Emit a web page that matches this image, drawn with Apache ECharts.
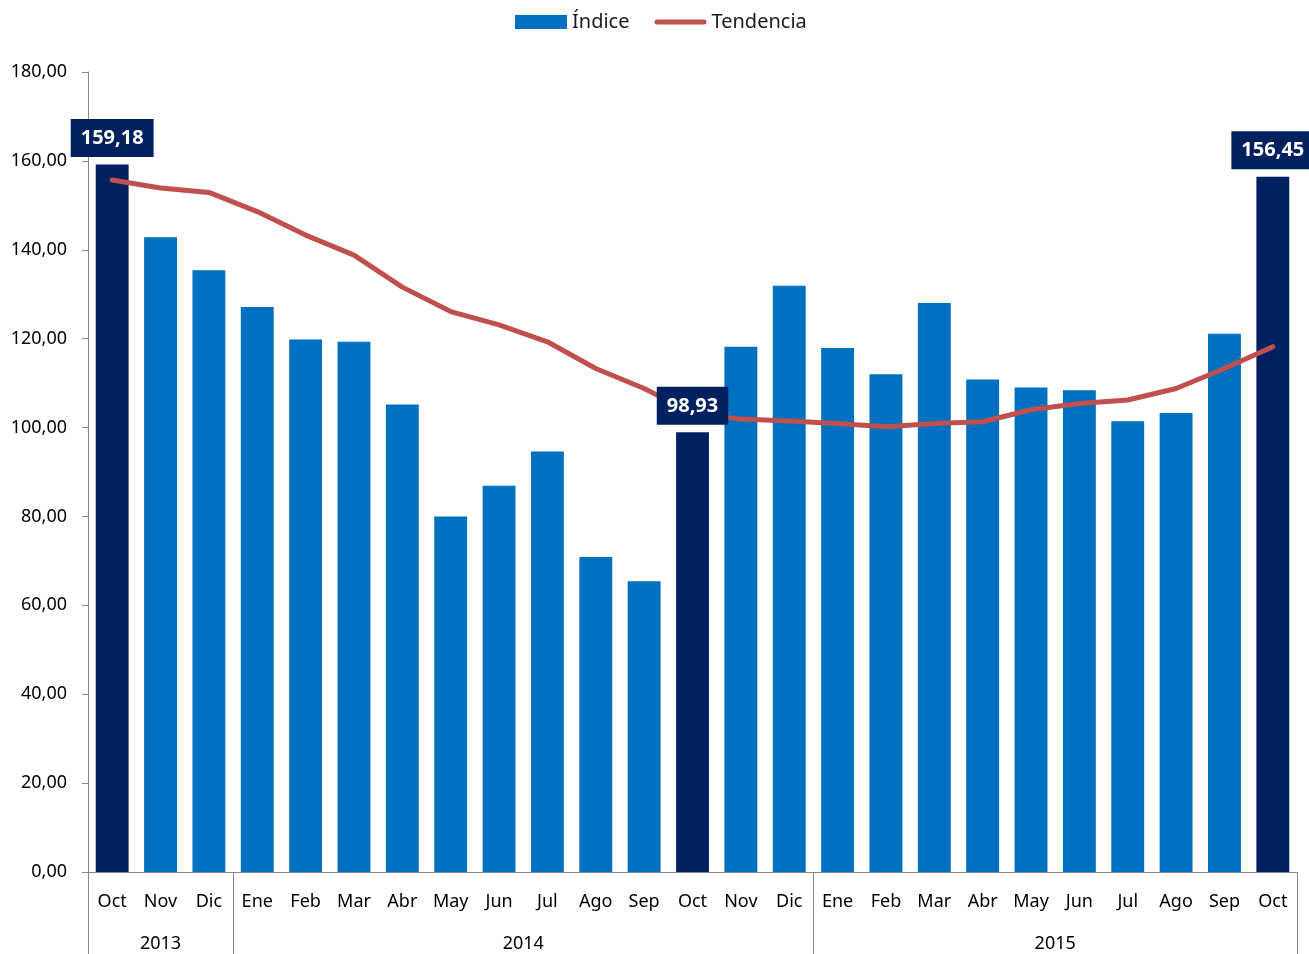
<!DOCTYPE html>
<html>
<head>
<meta charset="utf-8">
<script src="https://cdn.jsdelivr.net/npm/echarts@6/dist/echarts.min.js"></script>
<style>
  html, body { margin: 0; padding: 0; background: #fff; }
  #chart { width: 1309px; height: 954px; }
</style>
</head>
<body>
<div id="chart"></div>
<script>
// data
const months = ["Oct", "Nov", "Dic", "Ene", "Feb", "Mar", "Abr", "May", "Jun", "Jul", "Ago", "Sep",
  "Oct", "Nov", "Dic", "Ene", "Feb", "Mar", "Abr", "May", "Jun", "Jul", "Ago", "Sep", "Oct"];
const years = ["2013", "2014", "2015"];
const monthsPerYear = [3, 12, 10];
const indice = [159.18, 142.8, 135.4, 127.1, 119.8, 119.3, 105.2, 80.0, 86.9, 94.6, 70.9, 65.4,
  98.93, 118.2, 131.9, 117.9, 112.0, 128.0, 110.8, 109.0, 108.4, 101.4, 103.3, 121.1, 156.45];
const tendencia = [155.7, 153.9, 152.9, 148.6, 143.3, 138.8, 131.6, 126.1, 123.1, 119.3, 113.3, 108.8,
  103.3, 101.9, 101.5, 100.9, 100.2, 100.9, 101.3, 104.0, 105.4, 106.2, 108.8, 113.3, 118.2];
const highlighted = [0, 12, 24];
const yTicks = [0, 20, 40, 60, 80, 100, 120, 140, 160, 180];

const FONT = "Noto Sans";
const fmt = v => v.toFixed(2).replace(".", ",");

// year row: half-month slots, label at middle of each year group
const yearSlots = [];
const yearTickIdx = [0];
let pos = 0;
years.forEach((y, i) => {
  const n = monthsPerYear[i] * 2;
  for (let k = 0; k < n; k++) yearSlots.push(k === n / 2 ? y : "");
  pos += n;
  yearTickIdx.push(pos);
});
yearSlots.push("");

var myChart = echarts.init(document.getElementById("chart"));
var option = {
  backgroundColor: "#fff",
  animation: false,
  textStyle: { fontFamily: FONT },
  legend: {
    top: 12,
    left: 515,
    padding: 0,
    itemWidth: 52,
    itemHeight: 14,
    itemGap: 25,
    textStyle: { fontSize: 20, color: "#1a1a1a", fontFamily: FONT },
    data: [
      { name: "Índice", icon: "rect" },
      { name: "Tendencia", icon: "path://M0,0 M0,14 M2.5,4.5 L49.5,4.5 A2.5,2.5 0 0 1 49.5,9.5 L2.5,9.5 A2.5,2.5 0 0 1 2.5,4.5 Z M52,7" },
    ],
  },
  grid: { left: 88, right: 12, top: 72, bottom: 82 },
  xAxis: [
    {
      type: "category",
      data: months,
      axisLine: { lineStyle: { color: "#868686", width: 1 } },
      axisTick: { interval: 0, length: 42, lineStyle: { color: "#868686" } },
      axisLabel: { interval: 0, margin: 21, fontSize: 18, color: "#000", fontFamily: FONT },
    },
    {
      type: "category",
      data: yearSlots,
      boundaryGap: false,
      position: "bottom",
      axisLine: { show: false },
      axisTick: {
        length: 82,
        interval: (i) => yearTickIdx.indexOf(i) >= 0,
        lineStyle: { color: "#868686" },
      },
      axisLabel: {
        interval: (i, v) => v !== "",
        margin: 63,
        fontSize: 18,
        color: "#000",
        fontFamily: FONT,
      },
    },
  ],
  yAxis: {
    type: "value",
    min: yTicks[0],
    max: yTicks[yTicks.length - 1],
    interval: 20,
    axisLine: { show: true, lineStyle: { color: "#868686", width: 1 } },
    axisTick: { show: true, length: 6, lineStyle: { color: "#868686" } },
    splitLine: { show: false },
    axisLabel: { margin: 21, fontSize: 18, color: "#000", fontFamily: FONT, formatter: fmt },
  },
  series: [
    {
      name: "Índice",
      type: "bar",
      barCategoryGap: "32%",
      itemStyle: { color: "#0070C0" },
      data: indice.map((v, i) =>
        highlighted.indexOf(i) < 0 ? v : { value: v, itemStyle: { color: "#002060" } }
      ),
    },
    {
      name: "Tendencia",
      type: "line",
      symbol: "none",
      data: tendencia,
      lineStyle: { color: "#C0504D", width: 5, cap: "round", join: "round" },
      itemStyle: { color: "#C0504D" },
    },
    {
      // value boxes for the highlighted months, drawn above the trend line
      name: "etiquetas",
      type: "scatter",
      silent: true,
      z: 10,
      symbolSize: 1,
      itemStyle: { color: "transparent", opacity: 1 },
      data: highlighted.map((i) => [i, indice[i]]),
      label: {
        show: true,
        position: "top",
        distance: 7,
        opacity: 1,
        formatter: (p) => fmt(p.value[1]),
        backgroundColor: "#002060",
        color: "#fff",
        fontWeight: "bold",
        fontSize: 20,
        lineHeight: 24,
        padding: [7, 10],
        fontFamily: FONT,
      },
    },
  ],
};
option && myChart.setOption(option);
</script>
</body>
</html>
